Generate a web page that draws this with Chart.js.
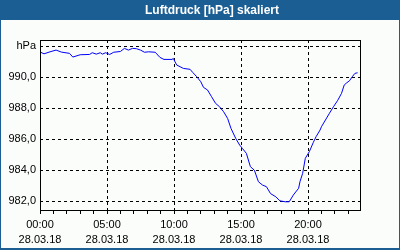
<!DOCTYPE html>
<html><head><meta charset="utf-8">
<script src="https://cdn.jsdelivr.net/npm/chart.js@4"></script>
<style>html,body{margin:0;padding:0;background:#fbfdfb;}#wrap{width:400px;height:250px;position:relative;}</style>
</head><body><div id="wrap"><canvas id="c" width="400" height="250"></canvas></div>
<script>
const chartTitle = 'Luftdruck [hPa] skaliert';
const hours = [0.0,0.3,0.75,1.2,1.6,2.2,2.45,3.0,3.7,3.9,4.2,4.5,4.65,4.9,5.2,5.5,6.0,6.3,6.6,6.9,7.2,7.5,7.8,8.1,8.6,8.95,9.25,9.85,9.95,10.2,10.7,11.2,11.4,11.7,12.0,12.2,12.5,12.8,13.1,13.4,13.7,14.0,14.25,14.6,14.9,15.1,15.4,15.7,16.0,16.3,16.6,16.9,17.2,17.6,17.9,18.3,18.6,18.9,19.3,19.4,19.6,19.8,20.1,20.4,20.6,20.9,21.0,21.6,21.9,22.2,22.5,22.7,22.9,23.1,23.3,23.5,23.7];
const pressure = [991.62,991.50,991.63,991.74,991.61,991.53,991.29,991.44,991.46,991.57,991.48,991.57,991.48,991.57,991.46,991.60,991.65,991.85,991.74,991.85,991.83,991.74,991.60,991.63,991.60,991.27,991.14,991.14,991.20,990.78,990.56,990.50,990.30,990.02,989.70,989.34,989.17,988.74,988.31,988.09,987.77,987.34,986.70,986.06,985.62,985.41,985.09,984.23,984.00,983.26,983.05,982.94,982.50,982.29,982.03,981.97,981.97,982.40,982.84,983.26,983.80,984.77,985.20,985.80,986.16,986.59,986.80,987.67,988.09,988.48,988.95,989.49,989.64,989.77,990.02,990.24,990.28];
const timeLabels = {0:'00:00',5:'05:00',10:'10:00',15:'15:00',20:'20:00'};
const dateLabel = '28.03.18';
const yTicks = [982,984,986,988,990,992];
const yTopLabel = 'hPa';

const frame = {
  id:'frame',
  afterLayout(chart){
    if (chart.titleBlock) { chart.titleBlock.left = 145; }
  },
  beforeDraw(chart){
    const c = chart.ctx;
    c.save();
    c.fillStyle = '#fbfdfb';
    c.fillRect(0,0,400,250);
    c.fillStyle = '#1b5e93';
    c.fillRect(0,0,400,20);
    c.fillRect(0,0,1,250);
    c.fillRect(399,0,1,250);
    c.fillRect(0,248,400,2);
    c.restore();
  },
  afterDatasetsDraw(chart){
    const a = chart.chartArea, c = chart.ctx;
    c.save();
    c.strokeStyle = '#000';
    c.lineWidth = 1;
    c.strokeRect(Math.round(a.left)+0.5, Math.round(a.top)+0.5, Math.round(a.right-a.left), Math.round(a.bottom-a.top));
    c.restore();
  }
};

new Chart(document.getElementById('c'), {
  type:'line',
  data:{ datasets:[{ data: hours.map((h,i)=>({x:h,y:pressure[i]})), borderColor:'#0000ff', borderWidth:1, pointRadius:0, tension:0, fill:false }]},
  options:{
    responsive:false, animation:false, devicePixelRatio:1,
    layout:{ padding:{left:0,right:40,top:0,bottom:0} },
    plugins:{
      legend:{display:false}, tooltip:{enabled:false},
      title:{ display:true, text:chartTitle, color:'#ffffff', font:{family:'Liberation Sans', size:12, weight:'bold'}, padding:{top:3,bottom:22.6}, align:'start' }
    },
    scales:{
      x:{ type:'linear', min:0, max:23.88,
        afterFit(s){ s.height = 40; },
        afterBuildTicks(s){ const t=[]; for(let i=0;i<=23;i++) t.push({value:i}); s.ticks=t; },
        border:{display:false, dash:[3,3]},
        grid:{ color:(ctx)=> (ctx.tick && ctx.tick.value%5===0 && ctx.tick.value>0) ? '#000' : 'rgba(0,0,0,0)', tickColor:'#000', tickLength:4, drawOnChartArea:true, lineWidth:1, tickBorderDash:[] },
        ticks:{ autoSkip:false, maxRotation:0, padding:3, color:'#000', font:{family:'Liberation Sans', size:11, lineHeight:1.4},
          callback:(v)=> timeLabels[v]!==undefined ? [timeLabels[v], dateLabel] : '' }
      },
      y:{ type:'linear', min:981.44, max:992.39,
        afterFit(s){ s.width = 40; },
        afterBuildTicks(s){ s.ticks = yTicks.map(v=>({value:v})); },
        border:{display:false, dash:[3,3]},
        grid:{ color:'#000', drawTicks:false, tickLength:0, lineWidth:1 },
        ticks:{ padding:4, color:'#000', font:{family:'Liberation Sans', size:11},
          callback:(v)=> v===992 ? yTopLabel : v.toFixed(1).replace('.',',') }
      }
    }
  },
  plugins:[frame]
});
</script></body></html>
